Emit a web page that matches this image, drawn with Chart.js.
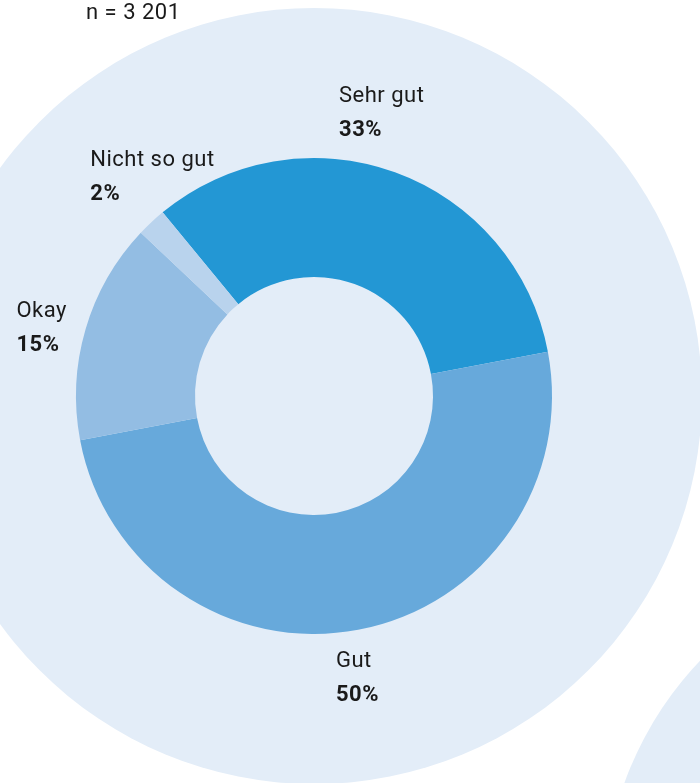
<!DOCTYPE html>
<html>
<head>
<meta charset="utf-8">
<script src="https://cdn.jsdelivr.net/npm/chart.js@4"></script>
<style>
  html, body { margin: 0; padding: 0; background: #ffffff; }
  #wrap { position: relative; width: 700px; height: 783px; overflow: hidden; }
</style>
</head>
<body>
<div id="wrap">
  <canvas id="bewertungChart" width="700" height="783"></canvas>
</div>
<script>
const kategorien = ['Sehr gut', 'Gut', 'Okay', 'Nicht so gut'];
const anteile = [33, 50, 15, 2];
const farben = ['#2397d4', '#67a9db', '#93bde3', '#b9d3ed'];
const fallzahl = 'n = 3 201';

// kleine Verschiebungen der Beschriftungen (linke Kante / Mitte)
const labelNudge = {
    'Sehr gut': [-72, -16],
    'Gut': [-31, 1],
    'Okay': [-24, 11],
    'Nicht so gut': [-29, -12]
};

const FONT = 'Roboto, "Noto Sans", sans-serif';

const hintergrund = {
    id: 'hintergrund',
    beforeDraw(chart) {
        const ctx = chart.ctx;
        const arc = chart.getDatasetMeta(0).data[0];
        ctx.save();
        ctx.fillStyle = '#e3edf8';
        ctx.beginPath();
        ctx.arc(arc.x, arc.y, 388, 0, Math.PI * 2);
        ctx.fill();
        ctx.beginPath();
        ctx.arc(950, 900, 346, 0, Math.PI * 2);
        ctx.fill();
        ctx.restore();
    }
};

const beschriftung = {
    id: 'beschriftung',
    afterDraw(chart) {
        const ctx = chart.ctx;
        const meta = chart.getDatasetMeta(0);
        ctx.save();
        ctx.fillStyle = '#1a1a1a';
        ctx.textAlign = 'left';
        ctx.textBaseline = 'alphabetic';
        ctx.letterSpacing = '0.5px';

        ctx.font = '400 22px ' + FONT;
        ctx.fillText(fallzahl, 86, 19);

        meta.data.forEach((el, i) => {
            const p = el.getProps(['x', 'y', 'startAngle', 'endAngle', 'outerRadius'], true);
            const mid = (p.startAngle + p.endAngle) / 2;
            const r = p.outerRadius + 47;
            const px = p.x + Math.cos(mid) * r;
            const py = p.y + Math.sin(mid) * r;
            const n = labelNudge[kategorien[i]] || [0, 0];
            const left = px + n[0];
            const cy = py + n[1];
            ctx.font = '400 22px ' + FONT;
            ctx.fillText(kategorien[i], left, cy - 10);
            ctx.font = '700 22px ' + FONT;
            ctx.fillText(anteile[i] + '%', left, cy + 24);
        });
        ctx.restore();
    }
};

document.addEventListener('DOMContentLoaded', () => {
    const ctx = document.getElementById('bewertungChart').getContext('2d');

    new Chart(ctx, {
        type: 'doughnut',
        data: {
            labels: kategorien,
            datasets: [{
                data: anteile,
                backgroundColor: farben,
                borderWidth: 0
            }]
        },
        options: {
            responsive: false,
            animation: false,
            rotation: -39.5,
            cutout: '50%',
            layout: {
                padding: { left: 76, right: 148, top: 158, bottom: 149 }
            },
            plugins: {
                legend: { display: false },
                tooltip: { enabled: false }
            }
        },
        plugins: [hintergrund, beschriftung]
    });
});
</script>
</body>
</html>
